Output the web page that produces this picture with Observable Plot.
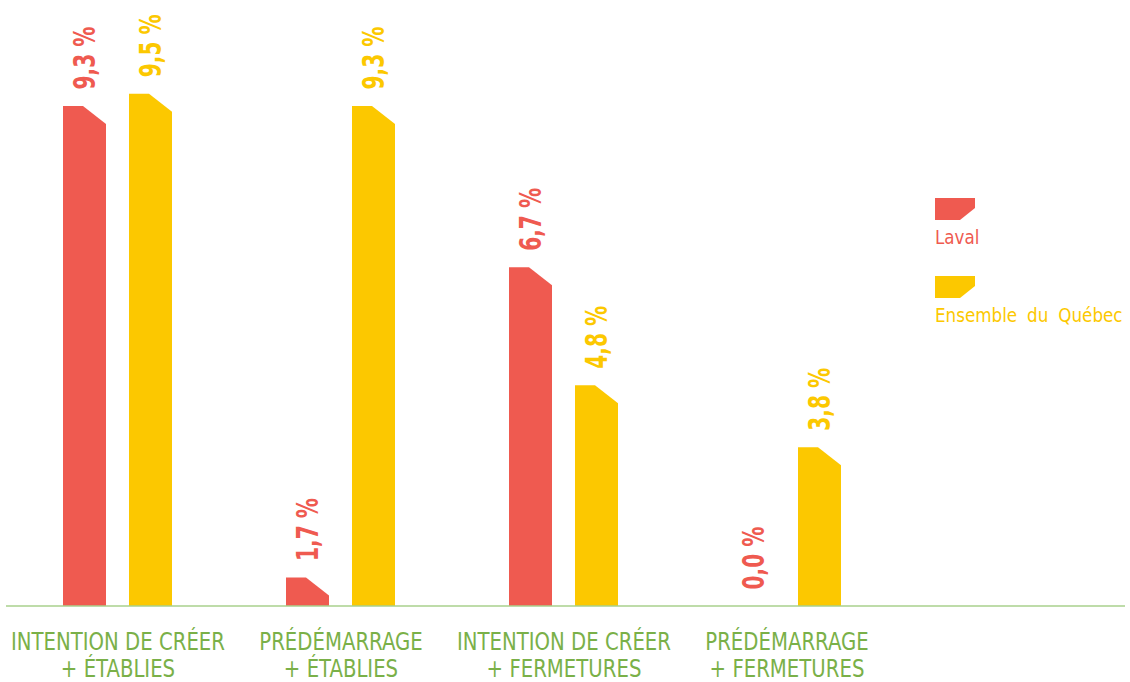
<!DOCTYPE html>
<html>
<head>
<meta charset="utf-8">
<script src="https://cdn.jsdelivr.net/npm/d3@7"></script>
<script src="https://cdn.jsdelivr.net/npm/@observablehq/plot@0.6"></script>
<style>
  html, body { margin: 0; padding: 0; background: #fff; }
  #wrap { position: relative; width: 1130px; height: 682px; overflow: hidden; }
  .legend { position: absolute; left: 935px; font-family: "DejaVu Sans Condensed", "Liberation Sans Narrow", sans-serif; font-size: 20px; word-spacing: 5px; line-height: 1; white-space: nowrap; }
  .legend svg { display: block; }
  .legend span { display: inline-block; margin-top: 7px; transform-origin: 0 50%; }
</style>
</head>
<body>
<div id="wrap"></div>
<script>
const categories = [
  "INTENTION DE CRÉER\n+ ÉTABLIES",
  "PRÉDÉMARRAGE\n+ ÉTABLIES",
  "INTENTION DE CRÉER\n+ FERMETURES",
  "PRÉDÉMARRAGE\n+ FERMETURES"
];
const seriesNames = ["Laval", "Ensemble du Québec"];
const lavalValues = [9.3, 1.7, 6.7, 0.0];
const quebecValues = [9.5, 9.3, 4.8, 3.8];

const RED = "#EF5A50";
const YELLOW = "#FCC800";
const GREEN = "#7AB048";
const LINE = "#A9D08C";
const FONT = '"DejaVu Sans Condensed", "Liberation Sans Narrow", sans-serif';

const data = [];
categories.forEach((c, i) => {
  data.push({category: c, series: seriesNames[0], value: lavalValues[i]});
  data.push({category: c, series: seriesNames[1], value: quebecValues[i]});
});
const fmt = v => v.toFixed(1).replace(".", ",") + " %";

const chart = Plot.plot({
  width: 1130,
  height: 682,
  marginLeft: 5,
  marginRight: 5,
  marginTop: 0,
  marginBottom: 76,
  style: {fontFamily: FONT, background: "white"},
  fx: {domain: categories, paddingInner: 0.502, paddingOuter: 0.762, align: 0.168, label: null},
  x: {domain: seriesNames, paddingInner: 0.343, paddingOuter: 0, axis: null},
  y: {domain: [1.24, 11.01], clamp: true, axis: null},
  color: {domain: seriesNames, range: [RED, YELLOW]},
  marks: [
    Plot.barY(data, {fx: "category", x: "series", y: "value", fill: "series"}),
    Plot.text(data, {
      fx: "category", x: "series", y: "value",
      text: d => fmt(d.value),
      rotate: -90, textAnchor: "start", lineAnchor: "middle",
      dy: -17, fill: "series",
      fontSize: 30, fontWeight: "bold"
    }),
    Plot.axisFx({
      anchor: "bottom", tickSize: 0, tickPadding: 24,
      fontSize: 25, lineHeight: 1.08, fill: GREEN, label: null,
      tickFormat: d => d
    })
  ]
});

const wrap = document.getElementById("wrap");
wrap.appendChild(chart);

// chamfer the top-right corner of each bar
const CW = 23, CH = 18;
d3.select(chart).selectAll('g[aria-label="bar"] rect').each(function() {
  const r = d3.select(this);
  const x = +r.attr("x"), y = +r.attr("y"), w = +r.attr("width"), h = +r.attr("height");
  const fill = r.attr("fill") || d3.select(this.parentNode).attr("fill");
  if (!(h > 0)) { r.remove(); return; }
  const ch = Math.min(CH, h);
  const cw = CW * ch / CH;
  const d = `M${x},${y + h}L${x},${y}L${x + w - cw},${y}L${x + w},${y + ch}L${x + w},${y + h}Z`;
  const p = document.createElementNS("http://www.w3.org/2000/svg", "path");
  p.setAttribute("d", d);
  if (fill) p.setAttribute("fill", fill);
  this.parentNode.insertBefore(p, this);
  r.remove();
});

// condense value labels to the narrow look of the original
const valueTexts = d3.select(chart).selectAll('g[aria-label="text"] text');
if (!valueTexts.empty()) {
  const len = valueTexts.node().getComputedTextLength();
  const f = len > 0 ? 63 / len : 1;
  valueTexts.each(function() {
    const t = this.getAttribute("transform") || "";
    this.setAttribute("transform", t + ` scale(${f},1)`);
  });
}

// condense category labels
const axisTexts = d3.select(chart).selectAll('g[aria-label="fx-axis tick label"] text');
if (!axisTexts.empty()) {
  const first = axisTexts.node();
  const tsp = first.querySelector("tspan");
  const len = (tsp || first).getComputedTextLength();
  const f = len > 0 ? 214 / len : 1;
  axisTexts.each(function() {
    const t = this.getAttribute("transform") || "";
    this.setAttribute("transform", t + ` scale(${f},1)`);
  });
}

// baseline
const yBase = chart.scale("y").apply(0);
d3.select(chart).append("line")
  .attr("x1", 6).attr("x2", 1125)
  .attr("y1", yBase).attr("y2", yBase)
  .attr("stroke", LINE).attr("stroke-width", 1.5);

// legend
const legendTops = [198, 276];
const spans = [];
seriesNames.forEach((name, i) => {
  const color = [RED, YELLOW][i];
  const div = document.createElement("div");
  div.className = "legend";
  div.style.top = legendTops[i] + "px";
  div.style.color = color;
  div.innerHTML = `<svg width="40" height="22"><polygon points="0,0 40,0 40,10 25,22 0,22" fill="${color}"/></svg><span>${name}</span>`;
  wrap.appendChild(div);
  spans.push(div.querySelector("span"));
});
const wLeg = spans[1].offsetWidth;
const fLeg = wLeg > 0 ? 188 / wLeg : 1;
spans.forEach(s => { s.style.transform = `scaleX(${fLeg})`; });
</script>
</body>
</html>
